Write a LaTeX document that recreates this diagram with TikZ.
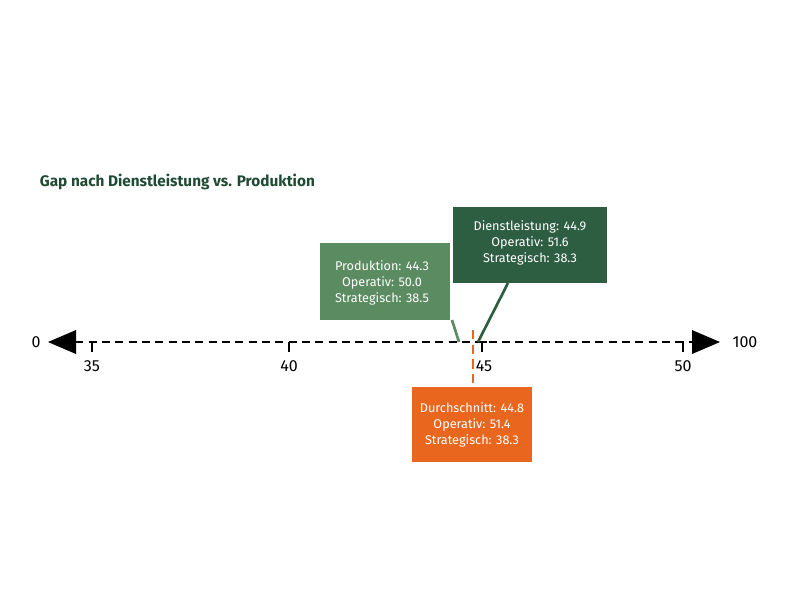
\documentclass[tikz,border=0pt]{standalone}
\usepackage{fontspec}
\setmainfont{Fira Sans}
\usetikzlibrary{arrows.meta}
\definecolor{prodgreen}{HTML}{5B8B60}
\definecolor{dienstgreen}{HTML}{2D5E42}
\definecolor{avgorange}{HTML}{E8661E}
\definecolor{titlegreen}{HTML}{1F4A33}
\tikzset{every picture/.style={line width=0.75pt},
  infobox/.style={text=white,font=\fontsize{9.5}{12}\selectfont,align=center,inner sep=0pt},
  ticklabel/.style={font=\fontsize{12}{14}\selectfont,inner sep=0.75pt}}
\begin{document}
\begin{tikzpicture}[x=0.75pt,y=0.75pt,yscale=-1,xscale=1]
\useasboundingbox (0,0) rectangle (790,593);

\draw (35,182) node [anchor=west,text=titlegreen,font=\fontsize{11.5}{14}\selectfont\bfseries]  {Gap nach Dienstleistung vs. Produktion};

\draw  [line width=1.5, dash pattern=on 6pt off 4pt]  (62,342) -- (706,342) ;
\fill  (48,342) -- (76,330) -- (76,354) -- cycle ;
\fill  (720,342) -- (692,330) -- (692,354) -- cycle ;

\draw  [line width=1.5]  (92,352) -- (92,342) -- (97,342) ;
\draw  [line width=1.5]  (289,342) -- (289,352) ;
\draw  [line width=1.5]  (482,352) -- (482,342) -- (487,342) ;
\draw  [line width=1.5]  (683,352) -- (683,342) -- (678,342) ;

\draw (36,342) node [ticklabel]  {0};
\draw (745,342) node [ticklabel]  {100};
\draw (92,366) node [ticklabel]  {35};
\draw (289,366) node [ticklabel]  {40};
\draw (484,366) node [ticklabel]  {45};
\draw (683,366) node [ticklabel]  {50};

\draw  [avgorange, line width=2, dash pattern=on 7pt off 4pt]  (473,330) -- (473,387) ;
\fill  [avgorange]  (412,387) rectangle (532,462) ;
\draw (472,424.5) node [infobox]  {Durchschnitt: 44.8\\Operativ: 51.4\\Strategisch: 38.3};

\draw  [prodgreen, line width=2]  (452,320) -- (459,342) ;
\fill  [prodgreen]  (320,243) rectangle (450,320) ;
\draw (382,283) node [infobox]  {Produktion: 44.3\\Operativ: 50.0\\Strategisch: 38.5};

\draw  [dienstgreen, line width=2]  (508,283) -- (478,342) ;
\fill  [dienstgreen]  (453,207) rectangle (607,283) ;
\draw (530,243) node [infobox]  {Dienstleistung: 44.9\\Operativ: 51.6\\Strategisch: 38.3};

\end{tikzpicture}
\end{document}
